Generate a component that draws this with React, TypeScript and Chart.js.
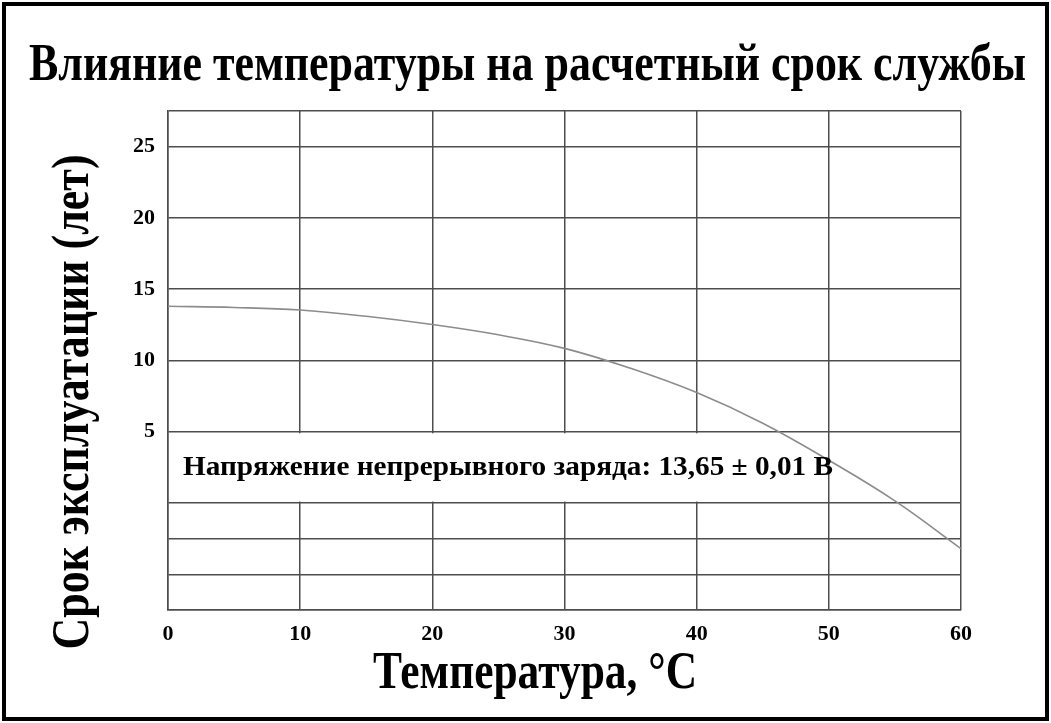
import React, { useEffect, useRef } from 'react';
import { Chart, registerables } from 'chart.js';

Chart.register(...registerables);

const temperatures = [0, 5, 10, 15, 20, 25, 30, 35, 40, 45, 50, 55, 60];
const lifeYears = [13.8, 13.72, 13.54, 13.1, 12.52, 11.8, 10.85, 9.45, 7.75, 5.6, 3.0, 0.15, -3.2];
const xTickValues = [0, 10, 20, 30, 40, 50, 60];
const yGridValues = [-7.5, -5, -2.5, 0, 5, 10, 15, 20, 25, 27.5];
const yLabelValues = [5, 10, 15, 20, 25];
const noteBandY = [0, 5];
const noteBandX = [0, 50];

const titleText = 'Влияние температуры на расчетный срок службы';
const xTitleText = 'Температура, °C';
const yTitleText = 'Срок эксплуатации (лет)';
const noteText = 'Напряжение непрерывного заряда: 13,65 ± 0,01 В';

const FONT = '"Liberation Serif", "Times New Roman", serif';

function drawCondensed(
  ctx: CanvasRenderingContext2D,
  text: string,
  x: number,
  y: number,
  size: number,
  targetWidth: number,
  rotate = false,
  align: CanvasTextAlign = 'center'
) {
  ctx.save();
  ctx.font = `bold ${size}px ${FONT}`;
  const w = ctx.measureText(text).width;
  const sx = targetWidth / w;
  ctx.translate(x, y);
  if (rotate) ctx.rotate(-Math.PI / 2);
  ctx.scale(sx, 1);
  ctx.textAlign = align;
  ctx.textBaseline = 'alphabetic';
  ctx.fillStyle = '#000';
  ctx.fillText(text, 0, 0);
  ctx.restore();
}

const decorPlugin = {
  id: 'decor',
  beforeDraw(chart: any) {
    const ctx = chart.ctx as CanvasRenderingContext2D;
    ctx.save();
    ctx.fillStyle = '#fff';
    ctx.fillRect(0, 0, chart.width, chart.height);
    ctx.strokeStyle = '#000';
    ctx.lineWidth = 4;
    ctx.strokeRect(4, 4, chart.width - 8, chart.height - 8);
    ctx.restore();
  },
  beforeDatasetsDraw(chart: any) {
    const ctx = chart.ctx as CanvasRenderingContext2D;
    const xs = chart.scales.x;
    const ys = chart.scales.y;
    const x0 = xs.getPixelForValue(noteBandX[0]);
    const x1 = xs.getPixelForValue(noteBandX[1]);
    const yTop = ys.getPixelForValue(noteBandY[1]);
    const yBot = ys.getPixelForValue(noteBandY[0]);
    ctx.save();
    ctx.fillStyle = '#fff';
    ctx.fillRect(x0 + 1.5, yTop + 1.5, x1 - x0 - 3, yBot - yTop - 3);
    ctx.restore();
  },
  afterDatasetsDraw(chart: any) {
    const ctx = chart.ctx as CanvasRenderingContext2D;
    const xs = chart.scales.x;
    const ys = chart.scales.y;
    const x0 = xs.getPixelForValue(noteBandX[0]);
    const yTop = ys.getPixelForValue(noteBandY[1]);
    const yBot = ys.getPixelForValue(noteBandY[0]);
    drawCondensed(ctx, noteText, x0 + 15, (yTop + yBot) / 2 + 7.5, 28, 650, false, 'left');
    // chart title
    drawCondensed(ctx, titleText, chart.width / 2 + 2, 80, 53, 997);
    // x axis title
    drawCondensed(ctx, xTitleText, 535, 688, 53, 324);
    // y axis title
    drawCondensed(ctx, yTitleText, 88, 402, 53, 495, true);
  },
};

export default function App() {
  const ref = useRef<HTMLCanvasElement>(null);

  useEffect(() => {
    if (!ref.current) return;
    const chart = new Chart(ref.current, {
      type: 'line',
      data: {
        datasets: [
          {
            data: temperatures.map((t, i) => ({ x: t, y: lifeYears[i] })),
            borderColor: '#8c8c8c',
            borderWidth: 1.6,
            pointRadius: 0,
            tension: 0.4,
            fill: false,
          },
        ],
      },
      options: {
        animation: false,
        responsive: true,
        maintainAspectRatio: false,
        layout: { padding: { top: 111, right: 90, left: 0, bottom: 0 } },
        plugins: {
          legend: { display: false },
          title: { display: false },
          tooltip: { enabled: false },
        },
        scales: {
          x: {
            type: 'linear',
            min: 0,
            max: 60,
            afterFit(scale: any) {
              scale.height = 113;
            },
            afterBuildTicks(scale: any) {
              scale.ticks = xTickValues.map((v) => ({ value: v }));
            },
            grid: { color: '#4d4d4d', lineWidth: 1.5, drawTicks: false },
            border: { color: '#4d4d4d', width: 1.5 },
            ticks: {
              padding: 11,
              color: '#000',
              font: { family: FONT, size: 22, weight: 'bold' },
              maxRotation: 0,
            },
          },
          y: {
            type: 'linear',
            min: -7.5,
            max: 27.5,
            afterFit(scale: any) {
              scale.width = 168;
            },
            afterBuildTicks(scale: any) {
              scale.ticks = yGridValues.map((v) => ({ value: v }));
            },
            grid: { color: '#4d4d4d', lineWidth: 1.5, drawTicks: false },
            border: { color: '#4d4d4d', width: 1.5 },
            ticks: {
              padding: 13,
              color: '#000',
              font: { family: FONT, size: 22, weight: 'bold' },
              callback: (v: any) => (yLabelValues.includes(Number(v)) ? String(v) : ''),
            },
          },
        },
      },
      plugins: [decorPlugin],
    } as any);
    return () => chart.destroy();
  }, []);

  return (
    <div style={{ position: 'fixed', left: 0, top: 0, width: 1051, height: 723, background: '#fff' }}>
      <canvas ref={ref} />
    </div>
  );
}
